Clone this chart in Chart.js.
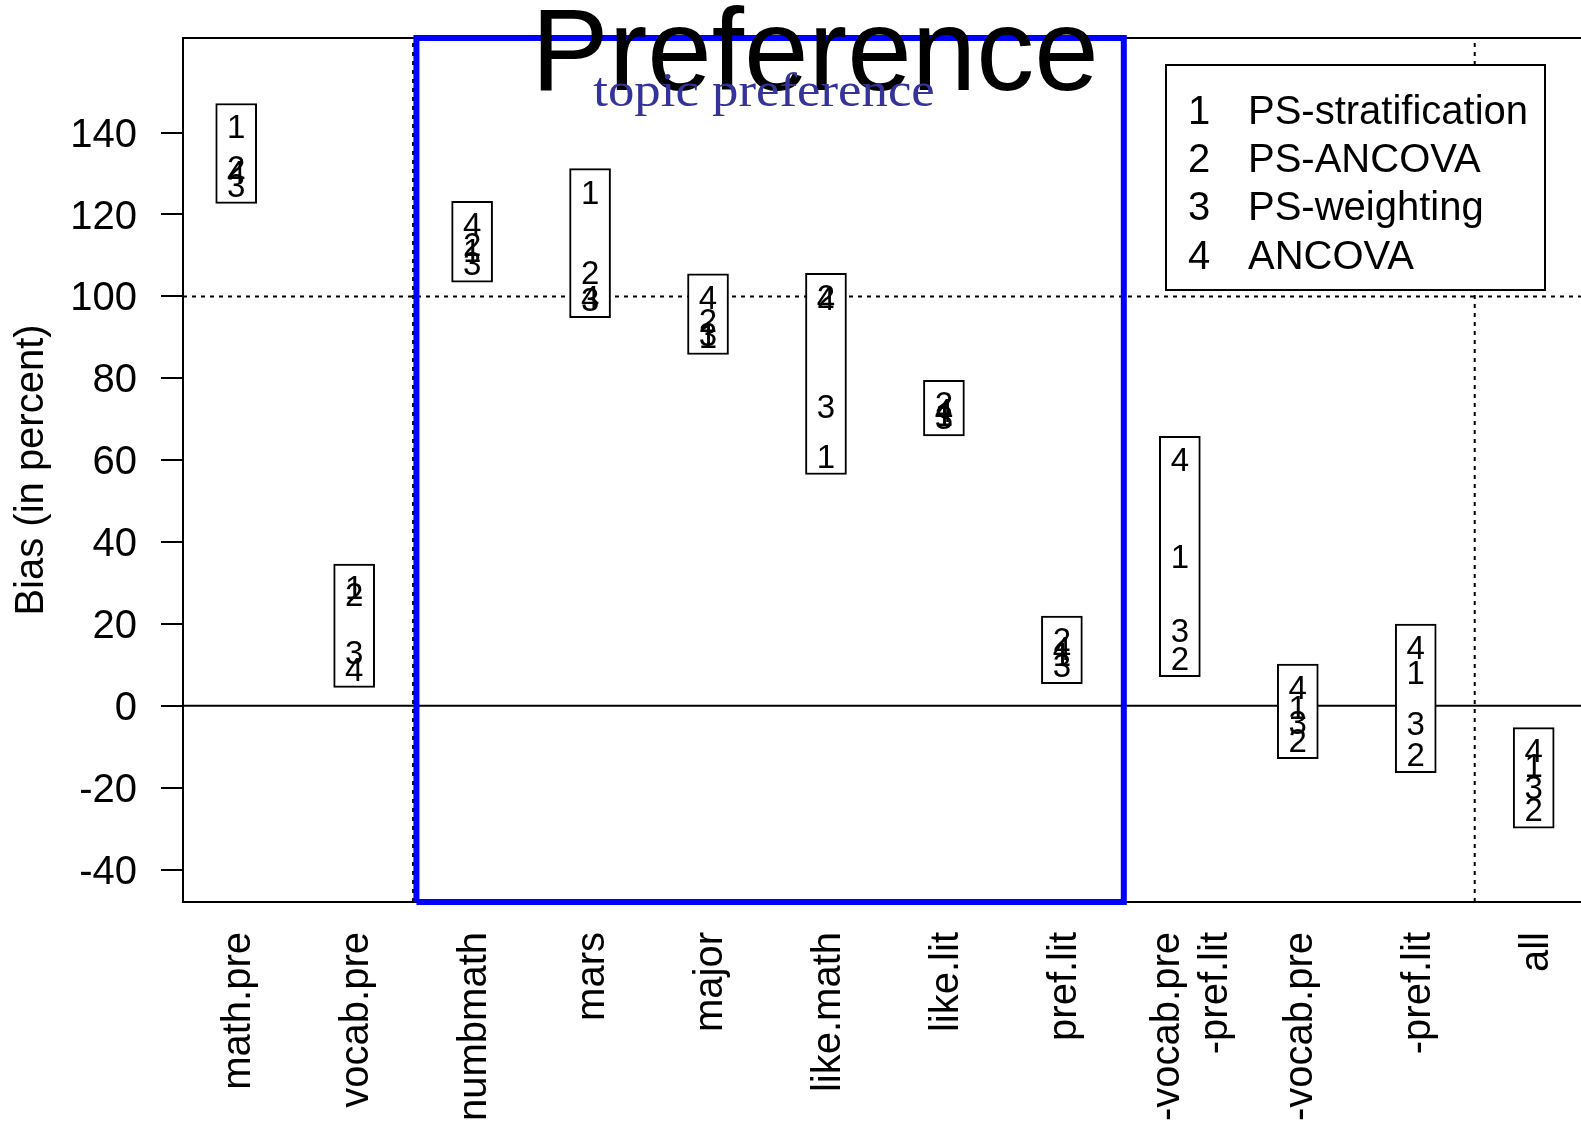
<!DOCTYPE html>
<html>
<head>
<meta charset="utf-8">
<title>Preference</title>
<script src="https://cdn.jsdelivr.net/npm/chart.js@4.4.1/dist/chart.umd.min.js"></script>
<style>
  html, body { margin: 0; padding: 0; background: #fff; overflow: hidden; }
  canvas { display: block; }
</style>
</head>
<body>
<canvas id="bias-chart" width="1581" height="1121"></canvas>
<script>
// covariate sets on the x axis
const categories = [
  "math.pre", "vocab.pre", "numbmath", "mars", "major", "like.math",
  "like.lit", "pref.lit", ["-vocab.pre", "-pref.lit"], "-vocab.pre", "-pref.lit", "all"
];

// bias in percent, one array per method (digit 1..4 in the plot)
const psStratification = [140.8, 28.3, 110.6, 124.9, 89.7, 60.4, 70.5, 12.0, 36.0, -1.0, 7.6, -15.2];
const psAncova = [130.9, 26.7, 112.0, 105.3, 93.5, 99.3, 73.2, 15.6, 11.0, -9.0, -12.4, -26.0];
const psWeighting = [126.6, 12.5, 107.4, 98.7, 90.2, 72.5, 69.8, 9.3, 17.8, -4.6, -5.0, -20.5];
const ancova = [129.7, 8.4, 116.9, 99.2, 99.2, 99.0, 71.5, 13.5, 59.5, 3.9, 13.7, -11.6];

const methodNames = ["PS-stratification", "PS-ANCOVA", "PS-weighting", "ANCOVA"];
const yTicks = [-40, -20, 0, 20, 40, 60, 80, 100, 120, 140];
const refLevels = [0, 100];
const groupBreaks = [1.5, 10.5];
const highlightRange = [1.528, 7.525];

const yMin = -47.9;
const yMax = 163.1;
const xMin = -0.451;
const xMax = 11.401;

document.addEventListener("DOMContentLoaded", () => {
  const canvas = document.getElementById("bias-chart");
  const sans = "'Liberation Sans', Arial, Helvetica, sans-serif";
  const methods = [psStratification, psAncova, psWeighting, ancova];

  Chart.defaults.color = "#000";
  Chart.defaults.font.family = sans;

  const boxes = categories.map((_, i) => {
    const vals = methods.map((series) => series[i]);
    return { x: i, y: [Math.min(...vals) - 3.9, Math.max(...vals) + 6.3] };
  });

  const refLine = (points, dash) => ({
    type: "line",
    data: points,
    borderColor: "#000",
    borderWidth: 2,
    borderDash: dash,
    pointRadius: 0,
    fill: false,
    tension: 0,
    clip: false,
    order: 3
  });

  const datasets = [
    {
      type: "bar",
      data: boxes,
      backgroundColor: "#fff",
      borderColor: "#000",
      borderWidth: 2,
      borderSkipped: false,
      barThickness: 41,
      order: 2
    },
    refLine([{ x: xMin, y: refLevels[0] }, { x: xMax, y: refLevels[0] }], []),
    refLine([{ x: xMin, y: refLevels[1] }, { x: xMax, y: refLevels[1] }], [4, 5]),
    ...groupBreaks.map((b) => refLine([{ x: b, y: yMin }, { x: b, y: yMax }], [4, 5])),
    {
      type: "line",
      data: [
        { x: highlightRange[0], y: yMin },
        { x: highlightRange[1], y: yMin },
        { x: highlightRange[1], y: yMax },
        { x: highlightRange[0], y: yMax },
        { x: highlightRange[0], y: yMin }
      ],
      borderColor: "#0000ff",
      borderWidth: 6,
      pointRadius: 0,
      fill: false,
      tension: 0,
      clip: false,
      order: 1
    }
  ];

  // no automatic label padding: the plot box is placed by hand
  const noPadding = (scale) => {
    scale.paddingTop = 0;
    scale.paddingBottom = 0;
    scale.paddingLeft = 0;
    scale.paddingRight = 0;
  };

  const plotFrame = {
    id: "plotFrame",
    beforeDatasetsDraw(chart) {
      const { ctx, chartArea } = chart;
      ctx.save();
      ctx.strokeStyle = "#000";
      ctx.lineWidth = 2;
      ctx.beginPath();
      ctx.moveTo(chartArea.left, chartArea.top);
      ctx.lineTo(chartArea.right, chartArea.top);
      ctx.stroke();
      ctx.restore();
    }
  };

  const methodDigits = {
    id: "methodDigits",
    afterDatasetsDraw(chart) {
      const { ctx, scales: { x, y } } = chart;
      ctx.save();
      ctx.font = "33px " + sans;
      ctx.fillStyle = "#000";
      ctx.textAlign = "center";
      ctx.textBaseline = "middle";
      methods.forEach((series, m) => {
        series.forEach((value, i) => {
          ctx.fillText(String(m + 1), x.getPixelForValue(i), y.getPixelForValue(value));
        });
      });
      ctx.restore();
    }
  };

  const legendAndTitle = {
    id: "legendAndTitle",
    afterDraw(chart) {
      const { ctx } = chart;
      ctx.save();
      // legend box
      ctx.fillStyle = "#fff";
      ctx.fillRect(1166, 65, 379, 225);
      ctx.strokeStyle = "#000";
      ctx.lineWidth = 2;
      ctx.strokeRect(1166, 65, 379, 225);
      ctx.fillStyle = "#000";
      ctx.font = "40px " + sans;
      ctx.textBaseline = "middle";
      methodNames.forEach((name, k) => {
        const rowY = 113 + k * 48.2;
        ctx.textAlign = "center";
        ctx.fillText(String(k + 1), 1199, rowY);
        ctx.textAlign = "left";
        ctx.fillText(name, 1248, rowY);
      });

      // titles
      ctx.textBaseline = "alphabetic";
      ctx.textAlign = "center";
      ctx.font = "116px " + sans;
      ctx.fillText("Preference", 815, 90);
      ctx.fillStyle = "#333399";
      ctx.font = "48px 'Liberation Serif', 'Times New Roman', serif";
      ctx.translate(764, 106);
      ctx.scale(1.1, 1);
      ctx.fillText("topic preference", 0, 0);
      ctx.restore();
    }
  };

  new Chart(canvas, {
    type: "bar",
    data: { datasets },
    options: {
      responsive: false,
      animation: false,
      devicePixelRatio: 1,
      layout: { padding: { top: 38, left: 0, right: 0, bottom: 0 } },
      plugins: {
        legend: { display: false },
        tooltip: { enabled: false }
      },
      scales: {
        x: {
          type: "linear",
          min: xMin,
          max: xMax,
          offset: false,
          afterBuildTicks: (scale) => {
            // two-line labels sit a little left of their category, as in R
            scale.ticks = categories.map((label, i) => ({
              value: Array.isArray(label) ? i - 0.13 : i
            }));
          },
          afterFit: (scale) => {
            scale.height = 219;
            noPadding(scale);
          },
          grid: { display: false, drawTicks: false },
          border: { display: true, color: "#000", width: 2 },
          ticks: {
            autoSkip: false,
            minRotation: 90,
            maxRotation: 90,
            padding: 30,
            labelOffset: 3,
            color: "#000",
            font: { size: 40 },
            callback: (value) => categories[Math.round(value)]
          }
        },
        y: {
          min: yMin,
          max: yMax,
          afterBuildTicks: (scale) => {
            scale.ticks = yTicks.map((v) => ({ value: v }));
          },
          afterFit: (scale) => {
            scale.width = 183;
            noPadding(scale);
          },
          grid: {
            drawOnChartArea: false,
            drawTicks: true,
            tickLength: 22,
            color: "#000",
            lineWidth: 2
          },
          border: { display: true, color: "#000", width: 2 },
          ticks: { padding: 24, labelOffset: 3, color: "#000", font: { size: 40 } },
          title: {
            display: true,
            text: "Bias (in percent)",
            color: "#000",
            font: { size: 40 },
            padding: { top: 8, bottom: 0 }
          }
        }
      }
    },
    plugins: [plotFrame, methodDigits, legendAndTitle]
  });
});
</script>
</body>
</html>
